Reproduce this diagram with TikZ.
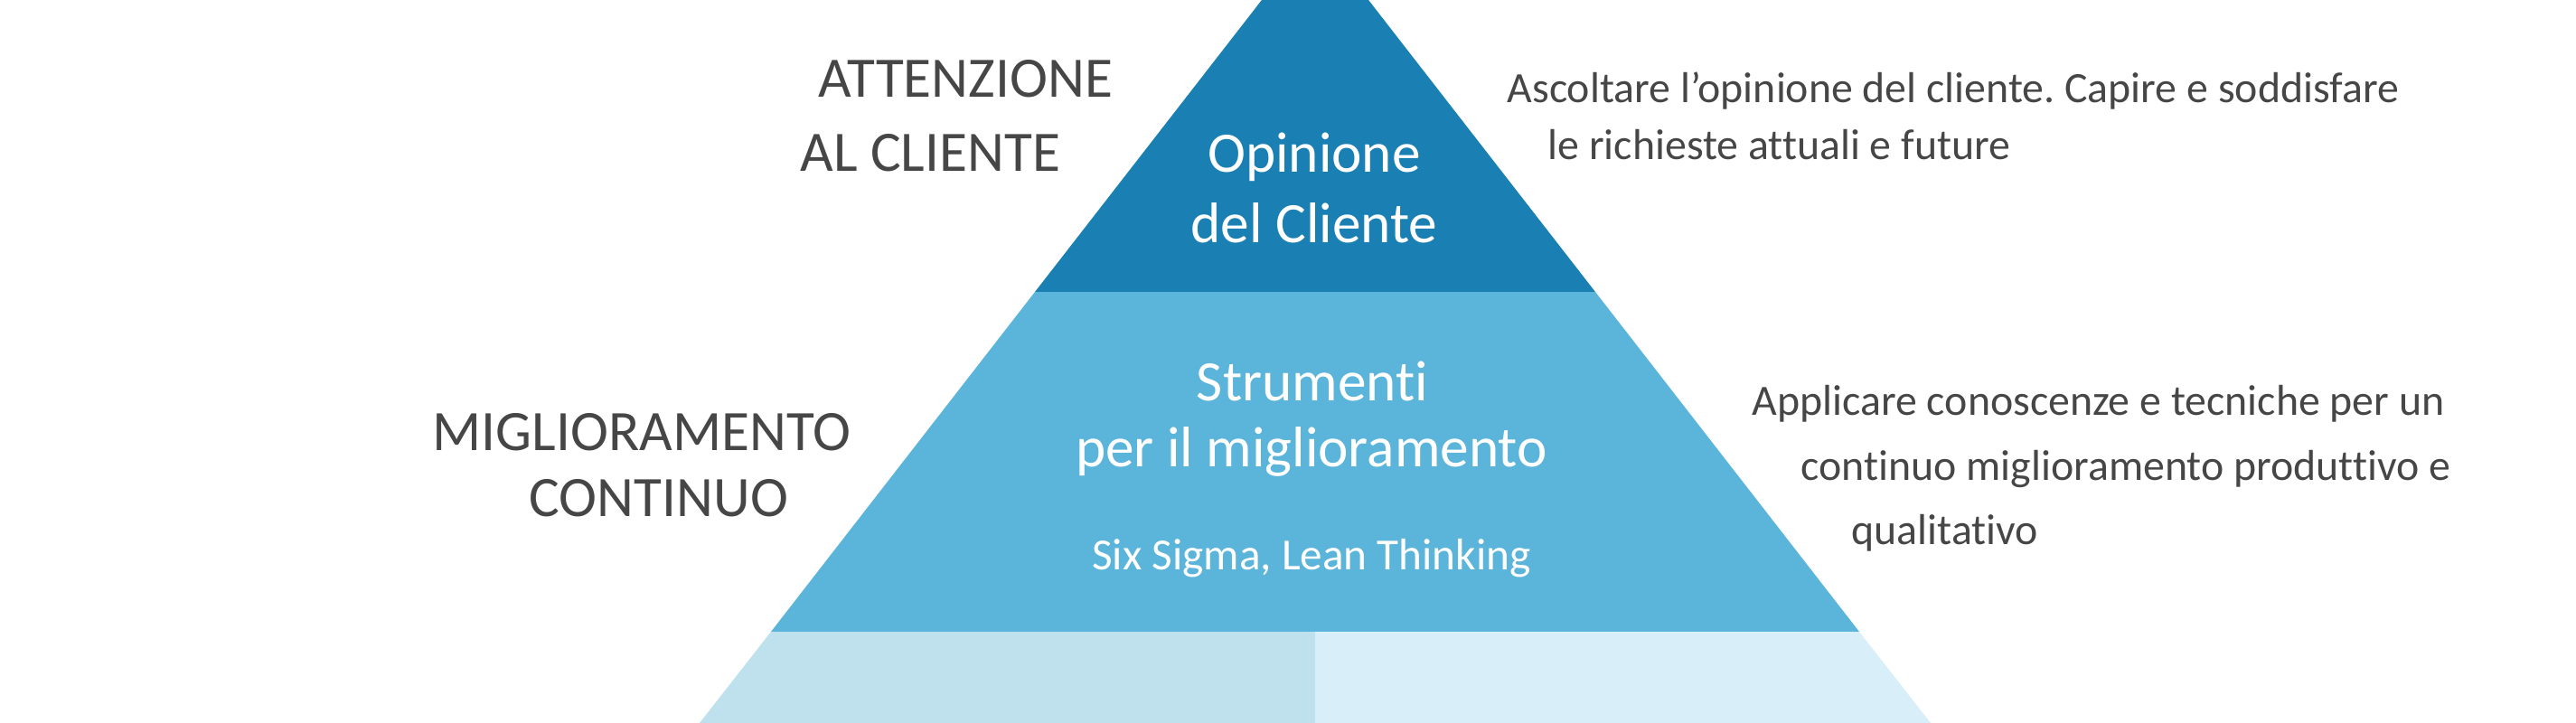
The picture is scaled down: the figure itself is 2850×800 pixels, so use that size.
\documentclass[tikz,border=0pt]{standalone}
\usepackage{fontspec}
\setmainfont{Carlito}[Ligatures=NoCommon]
\usetikzlibrary{calc}
\frenchspacing

\definecolor{tierdark}{HTML}{1A80B4}
\definecolor{tiermid}{HTML}{5BB4DA}
\definecolor{tierlowL}{HTML}{BEE1ED}
\definecolor{tierlowR}{HTML}{D8EFF9}
\definecolor{txtgrey}{HTML}{464646}

\tikzset{
  lefttxt/.style={anchor=west,inner sep=0pt,text=txtgrey,font=\fontsize{18pt}{21pt}\selectfont},
  righttxt/.style={anchor=west,inner sep=0pt,text=txtgrey,font=\fontsize{13.6pt}{16pt}\selectfont},
  inside/.style={inner sep=0pt,text=white,font=\fontsize{18pt}{21pt}\selectfont},
  insidesmall/.style={inner sep=0pt,text=white,font=\fontsize{14pt}{17pt}\selectfont}
}

\begin{document}
\begin{tikzpicture}[x=0.01cm,y=-0.01cm]
\useasboundingbox (0,0) rectangle (2850,800);
\clip (0,0) rectangle (2850,800);

% Pyramid corners
\coordinate (apex) at (1455,-76);
\coordinate (aL) at (1145,323);
\coordinate (aR) at (1765,323);
\coordinate (bL) at (853,699);
\coordinate (bM) at (1455,699);
\coordinate (bR) at (2057,699);
\coordinate (cL) at (774,800);
\coordinate (cM) at (1455,800);
\coordinate (cR) at (2136,800);

% Tiers
\fill[tierdark] (apex) -- (aR) -- (aL) -- cycle;
\fill[tiermid] (aL) -- (aR) -- (bR) -- (bL) -- cycle;
\fill[tierlowL] (bL) -- (bM) -- (cM) -- (cL) -- cycle;
\fill[tierlowR] (bM) -- (bR) -- (cR) -- (cM) -- cycle;

% Texts inside the pyramid
\node[inside] (op1) at (1454,174) {Opinione};
\node[inside] (op2) at (1454,247) {del Cliente};
\node[inside] (st1) at (1452,422) {Strumenti};
\node[inside] (st2) at (1451,500) {per il miglioramento};
\node[insidesmall] (st3) at (1451,618) {Six Sigma, Lean Thinking};

% Labels on the left
\node[lefttxt] (att1) at (905,87) {ATTENZIONE};
\node[lefttxt] (att2) at (885,169) {AL CLIENTE};
\node[lefttxt] (mig1) at (478,478) {MIGLIORAMENTO};
\node[lefttxt] (mig2) at (585,551) {CONTINUO};

% Descriptions on the right
\node[righttxt] (asc1) at (1667,100) {Ascoltare l’opinione del cliente. Capire e soddisfare};
\node[righttxt] (asc2) at (1712,160) {le richieste attuali e future};
\node[righttxt] (app1) at (1938,447) {Applicare conoscenze e tecniche per un};
\node[righttxt] (app2) at (1992,519) {continuo miglioramento produttivo e};
\node[righttxt] (app3) at (2048,590) {qualitativo};

\end{tikzpicture}
\end{document}
